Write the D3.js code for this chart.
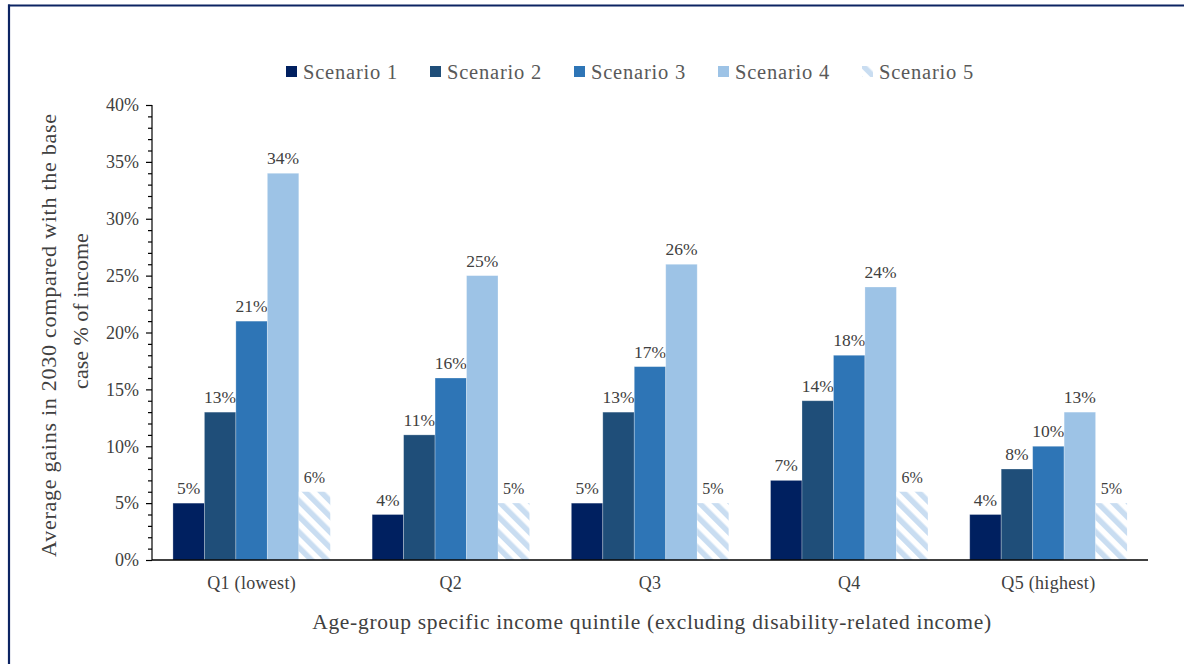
<!DOCTYPE html>
<html>
<head>
<meta charset="utf-8">
<script src="https://cdn.jsdelivr.net/npm/d3@7"></script>
<style>
  html, body { margin: 0; padding: 0; background: #fff; }
  svg { display: block; }
  svg text { font-family: "Liberation Serif", "DejaVu Serif", serif; }
</style>
</head>
<body>
<svg id="chart" width="1184" height="664"></svg>
<script>
const categories = ["Q1 (lowest)", "Q2", "Q3", "Q4", "Q5 (highest)"];
const seriesNames = ["Scenario 1", "Scenario 2", "Scenario 3", "Scenario 4", "Scenario 5"];
const scenario1 = [5, 4, 5, 7, 4];
const scenario2 = [13, 11, 13, 14, 8];
const scenario3 = [21, 16, 17, 18, 10];
const scenario4 = [34, 25, 26, 24, 13];
const scenario5 = [6, 5, 5, 6, 5];
const yTicks = [0, 5, 10, 15, 20, 25, 30, 35, 40];
const yTitleLines = ["Average gains in 2030 compared with the base", "case % of income"];
const xTitle = "Age-group specific income quintile (excluding disability-related income)";

const seriesValues = [scenario1, scenario2, scenario3, scenario4, scenario5];
const colors = ["#002060", "#1F4E79", "#2E75B6", "#9DC3E6", "url(#hatch)"];
const FONT = "'Liberation Serif', 'DejaVu Serif', serif";

const svg = d3.select("#chart");
const defs = svg.append("defs");
const pat = defs.append("pattern")
  .attr("id", "hatch")
  .attr("patternUnits", "userSpaceOnUse")
  .attr("width", 11).attr("height", 11)
  .attr("patternTransform", "rotate(-45)");
pat.append("rect").attr("width", 11).attr("height", 11).attr("fill", "#fff");
pat.append("rect").attr("width", 5.5).attr("height", 11).attr("fill", "#C9DDF1");

// frame
svg.append("line").attr("x1", 8).attr("x2", 1184).attr("y1", 5.5).attr("y2", 5.5)
  .attr("stroke", "#0C2463").attr("stroke-width", 2.2);
svg.append("line").attr("x1", 9).attr("x2", 9).attr("y1", 4.5).attr("y2", 664)
  .attr("stroke", "#0C2463").attr("stroke-width", 2.2);

const pLeft = 152, pRight = 1148, pTop = 105, pBottom = 560;

const x0 = d3.scaleBand().domain(categories).range([pLeft, pRight]).paddingInner(0).paddingOuter(0);
const gapRatio = 1.33;
const x1 = d3.scaleBand().domain(d3.range(5))
  .range([0, x0.bandwidth()])
  .paddingInner(0)
  .paddingOuter(gapRatio / 2);
const y = d3.scaleLinear().domain([0, 40]).range([pBottom, pTop]);

// bars
const groups = svg.append("g").selectAll("g")
  .data(categories).join("g")
  .attr("transform", d => `translate(${x0(d)},0)`);

groups.each(function(cat, ci) {
  const g = d3.select(this);
  seriesValues.forEach((vals, si) => {
    const v = vals[ci];
    g.append("rect")
      .attr("x", x1(si))
      .attr("width", x1.bandwidth())
      .attr("y", y(v))
      .attr("height", y(0) - y(v))
      .attr("fill", colors[si])
      .attr("stroke", si === 4 ? "none" : "rgba(255,255,255,0.35)")
      .attr("stroke-width", 0.8);
    g.append("text")
      .attr("x", x1(si) + x1.bandwidth() / 2)
      .attr("y", y(v) - 9)
      .attr("text-anchor", "middle")
      .attr("font-family", FONT)
      .attr("font-size", si === 4 ? 16 : 17.5)
      .attr("fill", "#404040")
      .text(v + "%");
  });
});

// y axis with minor ticks
const yAxisG = svg.append("g").attr("transform", `translate(${pLeft},0)`);
yAxisG.call(d3.axisLeft(y).tickValues(d3.range(0, 41, 1)).tickSize(4).tickFormat(""));
yAxisG.call(g => g.selectAll(".tick").filter(d => d % 5 === 0).select("line").attr("x2", -6));
yAxisG.select(".domain").attr("d", `M0,${pTop}V${pBottom}`);
yAxisG.selectAll("line, path").attr("stroke", "#000").attr("stroke-width", 1.2);

const yLabels = svg.append("g").attr("transform", `translate(${pLeft},0)`)
  .call(d3.axisLeft(y).tickValues(yTicks).tickSize(0).tickPadding(13).tickFormat(d => d + "%"));
yLabels.attr("font-family", FONT);
yLabels.select(".domain").remove();
yLabels.selectAll("text").attr("font-size", 18).attr("fill", "#404040");

// x axis
const xAxisG = svg.append("g").attr("transform", `translate(0,${pBottom})`)
  .call(d3.axisBottom(x0).tickSize(0).tickPadding(16));
xAxisG.attr("font-family", FONT);
xAxisG.select(".domain").attr("d", `M${pLeft},0H${pRight}`).attr("stroke", "#000").attr("stroke-width", 1.5);
xAxisG.selectAll("text").attr("font-size", 18).attr("letter-spacing", 0.3).attr("fill", "#404040");

// axis titles (two lines, each placed like the reference)
const yTitleCenters = [335, 311];
const yTitleX = [56, 88];
const yTitleSpacing = [0.75, 0];
svg.append("g").selectAll("text").data(yTitleLines).join("text")
  .attr("transform", (d, i) => `translate(${yTitleX[i]},${yTitleCenters[i]}) rotate(-90)`)
  .attr("text-anchor", "middle")
  .attr("font-family", FONT)
  .attr("font-size", 22)
  .attr("letter-spacing", (d, i) => yTitleSpacing[i])
  .attr("fill", "#404040")
  .text(d => d);

svg.append("text")
  .attr("x", 652).attr("y", 629)
  .attr("text-anchor", "middle")
  .attr("font-family", FONT)
  .attr("font-size", 21.5)
  .attr("letter-spacing", 0.7)
  .attr("fill", "#404040")
  .text(xTitle);

// legend
const legend = svg.append("g").attr("font-family", FONT);
const legendX = d3.scalePoint().domain(seriesNames).range([286, 862]);
seriesNames.forEach((name, i) => {
  const gx = legendX(name);
  legend.append("rect").attr("x", gx).attr("y", 66).attr("width", 11).attr("height", 11)
    .attr("fill", colors[i]);
  legend.append("text").attr("x", gx + 17).attr("y", 79)
    .attr("font-size", 20.5).attr("letter-spacing", 0.8).attr("fill", "#595959").text(name);
});
</script>
</body>
</html>
